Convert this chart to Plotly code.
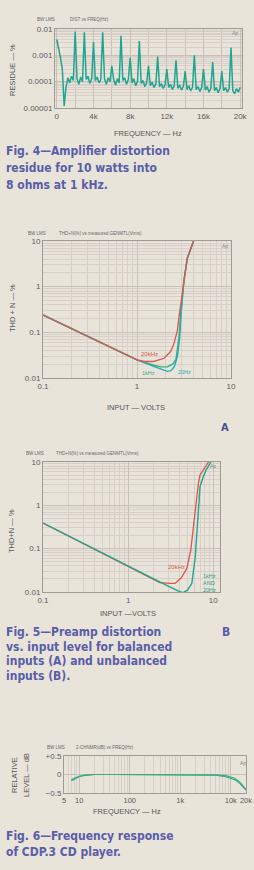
import plotly.graph_objects as go

# ---------------- DATA ----------------
# Fig. 4: amplifier distortion residue vs frequency (Hz, %)
fig4_freq_hz = [0, 200, 400, 600, 800, 1000, 1200, 1400, 1600, 1800,
                2000, 2200, 2400, 2600, 2800, 3000, 3200, 3400, 3600, 3800,
                4000, 4200, 4400, 4600, 4800, 5000, 5200, 5400, 5600, 5800,
                6000, 6200, 6400, 6600, 6800, 7000, 7200, 7400, 7600, 7800,
                8000, 8200, 8400, 8600, 8800, 9000, 9200, 9400, 9600, 9800,
                10000, 10200, 10400, 10600, 10800, 11000, 11200, 11400, 11600, 11800,
                12000, 12200, 12400, 12600, 12800, 13000, 13200, 13400, 13600, 13800,
                14000, 14200, 14400, 14600, 14800, 15000, 15200, 15400, 15600, 15800,
                16000, 16200, 16400, 16600, 16800, 17000, 17200, 17400, 17600, 17800,
                18000, 18200, 18400, 18600, 18800, 19000, 19200, 19400, 19600, 19800,
                20000]
fig4_residue_pct = [4.0e-3, 2.0e-3, 8.0e-4, 3.0e-4, 1.2e-5, 6.0e-5, 1.4e-4, 9.0e-5, 1.6e-4, 1.1e-4,
                    8.0e-3, 1.3e-4, 8.0e-5, 1.5e-4, 1.0e-4, 7.5e-3, 1.2e-4, 1.6e-4, 8.5e-5, 1.3e-4,
                    3.2e-3, 1.1e-4, 1.5e-4, 9.0e-5, 1.2e-4, 7.5e-3, 1.3e-4, 8.0e-5, 1.4e-4, 1.0e-4,
                    4.0e-4, 1.2e-4, 7.5e-5, 1.3e-4, 9.0e-5, 5.5e-3, 1.1e-4, 1.4e-4, 8.0e-5, 1.2e-4,
                    8.0e-4, 9.0e-5, 1.3e-4, 7.0e-5, 1.0e-4, 3.5e-3, 8.5e-5, 1.1e-4, 6.5e-5, 9.0e-5,
                    4.0e-4, 7.0e-5, 9.5e-5, 6.0e-5, 8.0e-5, 9.0e-4, 6.5e-5, 8.5e-5, 5.5e-5, 7.5e-5,
                    3.0e-4, 6.0e-5, 8.0e-5, 5.0e-5, 7.0e-5, 6.5e-4, 5.5e-5, 7.5e-5, 4.8e-5, 6.5e-5,
                    2.5e-4, 5.0e-5, 7.0e-5, 4.5e-5, 6.0e-5, 1.0e-3, 5.0e-5, 6.5e-5, 4.2e-5, 6.0e-5,
                    3.0e-4, 4.8e-5, 6.5e-5, 4.0e-5, 5.5e-5, 5.5e-4, 4.5e-5, 6.0e-5, 3.8e-5, 5.5e-5,
                    2.5e-4, 4.5e-5, 6.0e-5, 4.0e-5, 5.5e-5, 2.0e-3, 4.5e-5, 3.5e-5, 5.5e-5, 4.0e-5,
                    6.0e-5]
fig4_xtick_vals = [0, 4000, 8000, 12000, 16000, 20000]
fig4_xtick_text = ["0", "4k", "8k", "12k", "16k", "20k"]
fig4_ytick_vals = [1e-2, 1e-3, 1e-4, 1e-5]
fig4_ytick_text = ["0.01", "0.001", "0.0001", "0.00001"]

# Fig. 5A: balanced inputs, THD+N (%) vs input (V)
a_1k_volts = [0.1, 0.2, 0.5, 1.0, 1.5, 1.8, 2.1, 2.4, 2.6, 2.8, 2.92, 3.16, 3.43, 3.58, 3.9, 4.0]
a_1k_thd = [0.24, 0.12, 0.049, 0.025, 0.019, 0.0175, 0.0175, 0.02, 0.026, 0.08, 0.26, 1.4, 4.2, 5.4, 8.9, 10]
a_20_volts = [0.1, 0.2, 0.5, 1.0, 1.5, 1.8, 2.1, 2.3, 2.5, 2.7, 2.85, 2.95, 3.16, 3.43, 3.58, 3.9, 4.0]
a_20_thd = [0.24, 0.12, 0.049, 0.025, 0.018, 0.016, 0.014, 0.0145, 0.018, 0.03, 0.08, 0.26, 1.4, 4.2, 5.4, 8.9, 10]
a_20k_volts = [0.1, 0.2, 0.5, 1.0, 1.2, 1.5, 1.94, 2.28, 2.48, 2.69, 2.8, 2.92, 3.16, 3.43, 3.58, 3.9, 4.0]
a_20k_thd = [0.24, 0.12, 0.049, 0.025, 0.023, 0.023, 0.027, 0.038, 0.058, 0.11, 0.22, 0.4, 1.4, 4.2, 5.4, 8.9, 10]

# Fig. 5B: unbalanced inputs
b_1k_volts = [0.1, 0.2, 0.5, 1.0, 2.0, 3.0, 4.0, 4.4, 5.0, 5.61, 6.16, 6.55, 7.0, 7.66, 8.24, 9.15, 9.4]
b_1k_thd = [0.39, 0.195, 0.078, 0.039, 0.0195, 0.0135, 0.0103, 0.0097, 0.011, 0.0158, 0.065, 0.54, 2.7, 4.6, 6.5, 9.3, 10]
b_20k_volts = [0.1, 0.2, 0.5, 1.0, 2.0, 2.36, 3.1, 3.57, 4.2, 4.9, 5.45, 5.86, 6.3, 6.7, 7.0, 8.0, 8.8]
b_20k_thd = [0.39, 0.195, 0.078, 0.039, 0.0195, 0.0165, 0.0158, 0.0158, 0.021, 0.035, 0.093, 0.32, 1.33, 3.2, 5.0, 7.8, 10]

fig5_tick_x_vals = [0.1, 1, 10]
fig5_tick_x_text = ["0.1", "1", "10"]
fig5_tick_y_vals = [0.01, 0.1, 1, 10]
fig5_tick_y_text = ["0.01", "0.1", "1", "10"]

# Fig. 6: frequency response (Hz, dB)
fig6_freq = [7, 8, 10, 12, 15, 20, 50, 100, 1000, 5000, 8000, 10000, 12000, 15000, 18000, 20000]
fig6_left_db = [-0.15, -0.1, -0.05, -0.02, -0.01, 0, 0, 0, 0, -0.01, -0.03, -0.06, -0.1, -0.2, -0.32, -0.4]
fig6_right_db = [-0.17, -0.12, -0.06, -0.03, -0.01, 0, 0, 0, 0, -0.02, -0.06, -0.1, -0.14, -0.24, -0.35, -0.42]
fig6_xtick_vals = [5, 10, 100, 1000, 10000, 20000]
fig6_xtick_text = ["5", "10", "100", "1k", "10k", "20k"]
fig6_ytick_vals = [0.5, 0, -0.5]
fig6_ytick_text = ["+0.5", "0", "\u22120.5"]

# ---------------- STYLE ----------------
W, H = 254, 870
BG = "#e8e4da"
GRID = "#c9c1b9"
MINOR = "#d8d0c8"
FRAME = "#a09a94"
TICKC = "#5a5a5a"
CAP = "#5a5da8"
TEAL = "#1fa590"
GREEN = "#3aae78"
CYAN = "#22aeb8"
RED = "#d9574c"
CAPFONT = "Liberation Sans Narrow, DejaVu Sans Condensed, Arial Narrow, sans-serif"


def tickfont(size):
    return dict(family="Liberation Sans, Arial, sans-serif", size=size, color=TICKC)


def fx(px):
    return px / W


def fy(py):
    return 1 - py / H


fig = go.Figure()

# Fig 4 trace
fig.add_trace(go.Scatter(x=fig4_freq_hz, y=fig4_residue_pct, mode="lines",
                         line=dict(color=TEAL, width=1.5), xaxis="x", yaxis="y"))
# Fig 5A traces
fig.add_trace(go.Scatter(x=a_1k_volts, y=a_1k_thd, mode="lines",
                         line=dict(color=GREEN, width=1.4), xaxis="x2", yaxis="y2"))
fig.add_trace(go.Scatter(x=a_20_volts, y=a_20_thd, mode="lines",
                         line=dict(color=CYAN, width=1.4), xaxis="x2", yaxis="y2"))
fig.add_trace(go.Scatter(x=a_20k_volts, y=a_20k_thd, mode="lines",
                         line=dict(color=RED, width=1.3), xaxis="x2", yaxis="y2"))
# Fig 5B traces
fig.add_trace(go.Scatter(x=b_20k_volts, y=b_20k_thd, mode="lines",
                         line=dict(color=RED, width=1.3), xaxis="x3", yaxis="y3"))
fig.add_trace(go.Scatter(x=b_1k_volts, y=b_1k_thd, mode="lines",
                         line=dict(color=TEAL, width=1.4), xaxis="x3", yaxis="y3"))
# Fig 6 traces
fig.add_trace(go.Scatter(x=fig6_freq, y=fig6_right_db, mode="lines",
                         line=dict(color=TEAL, width=1.1), xaxis="x4", yaxis="y4"))
fig.add_trace(go.Scatter(x=fig6_freq, y=fig6_left_db, mode="lines",
                         line=dict(color=GREEN, width=1.1), xaxis="x4", yaxis="y4"))


def ax(size=8, **kw):
    d = dict(showline=True, linecolor=FRAME, linewidth=1, mirror=True,
             gridcolor=GRID, gridwidth=1, zeroline=False, ticks="",
             tickfont=tickfont(size), fixedrange=True, tickangle=0, automargin=False)
    d.update(kw)
    return d


layout = dict(
    width=W, height=H, margin=dict(l=0, r=0, t=0, b=0, autoexpand=False),
    paper_bgcolor=BG, plot_bgcolor=BG, showlegend=False,
    xaxis=ax(domain=[fx(55), fx(242)], range=[-200, 20200], anchor="y",
             tickmode="array", tickvals=fig4_xtick_vals, ticktext=fig4_xtick_text,
             minor=dict(dtick=2000, tick0=0, showgrid=True, gridcolor=GRID)),
    yaxis=ax(domain=[fy(108), fy(29)], type="log", range=[-5, -2], anchor="x",
             tickmode="array", tickvals=fig4_ytick_vals, ticktext=fig4_ytick_text,
             minor=dict(dtick="D1", showgrid=True, gridcolor=MINOR)),
    xaxis2=ax(domain=[fx(43), fx(231)], type="log", range=[-1, 1], anchor="y2",
              tickmode="array", tickvals=fig5_tick_x_vals, ticktext=fig5_tick_x_text,
              minor=dict(dtick="D1", showgrid=True, gridcolor=MINOR)),
    yaxis2=ax(domain=[fy(378), fy(241)], type="log", range=[-2, 1], anchor="x2",
              tickmode="array", tickvals=fig5_tick_y_vals, ticktext=fig5_tick_y_text,
              minor=dict(dtick="D1", showgrid=True, gridcolor=MINOR)),
    xaxis3=ax(domain=[fx(43), fx(220)], type="log", range=[-1, 1.08], anchor="y3",
              tickmode="array", tickvals=fig5_tick_x_vals, ticktext=fig5_tick_x_text,
              minor=dict(dtick="D1", showgrid=True, gridcolor=MINOR)),
    yaxis3=ax(domain=[fy(592), fy(462)], type="log", range=[-2, 1], anchor="x3",
              tickmode="array", tickvals=fig5_tick_y_vals, ticktext=fig5_tick_y_text,
              minor=dict(dtick="D1", showgrid=True, gridcolor=MINOR)),
    xaxis4=ax(size=7.5, domain=[fx(64), fx(246)], type="log", range=[0.69897, 4.30103], anchor="y4",
              tickmode="array", tickvals=fig6_xtick_vals, ticktext=fig6_xtick_text,
              minor=dict(dtick="D1", showgrid=True, gridcolor=MINOR)),
    yaxis4=ax(domain=[fy(793), fy(756)], range=[-0.5, 0.5], anchor="x4",
              tickmode="array", tickvals=fig6_ytick_vals, ticktext=fig6_ytick_text),
)
fig.update_layout(**layout)

ann = []


def text(px, py, s, size=7, color="#555", rot=0, bold=False, family="Liberation Sans, Arial, sans-serif",
         xanchor="center"):
    ann.append(dict(x=fx(px), y=fy(py), xref="paper", yref="paper", text=("<b>%s</b>" % s) if bold else s,
                    showarrow=False, textangle=rot, xanchor=xanchor, yanchor="middle",
                    font=dict(size=size, color=color, family=family)))


# Fig 4 texts
text(35, 19, "BW LMS", size=4.5, color="#666", xanchor="left")
text(68, 19, "DIST vs FREQ(Hz)", size=4.5, color="#666", xanchor="left")
text(235, 33, "Ap", size=5, color="#888")
text(12, 70, "RESIDUE \u2014 %", size=7.5, rot=-90)
text(148, 133, "FREQUENCY \u2014 Hz", size=7.5)
text(4, 151, "Fig. 4\u2014Amplifier distortion", size=12, color=CAP, bold=True, family=CAPFONT, xanchor="left")
text(4, 168, "residue for 10 watts into", size=12, color=CAP, bold=True, family=CAPFONT, xanchor="left")
text(4, 185, "8 ohms at 1 kHz.", size=12, color=CAP, bold=True, family=CAPFONT, xanchor="left")

# Fig 5A texts
text(26, 233, "BW LMS", size=4.5, color="#666", xanchor="left")
text(57, 233, "THD+N(%) vs measured GENMTL(Vrms)", size=4.5, color="#666", xanchor="left")
text(225, 246, "Ap", size=5, color="#888")
text(12, 308, "THD + N \u2014 %", size=7.5, rot=-90)
text(149, 354, "20kHz", size=6, color=RED)
text(148, 373, "1kHz", size=5.5, color=GREEN)
text(184, 372, "20Hz", size=5.5, color=CYAN)
text(136, 407, "INPUT \u2014 VOLTS", size=7.5)
text(225, 427, "A", size=11, color="#4a4d90", bold=True, family=CAPFONT)

# Fig 5B texts
text(24, 453, "BW LMS", size=4.5, color="#666", xanchor="left")
text(54, 453, "THD+N(%) vs measured GENMTL(Vrms)", size=4.5, color="#666", xanchor="left")
text(213, 466, "Ap", size=5, color="#888")
text(11, 531, "THD+N \u2014 %", size=7.5, rot=-90)
text(176, 567, "20kHz", size=6, color=RED)
text(209, 576, "1kHz", size=5.5, color=TEAL)
text(209, 583, "AND", size=5.5, color=TEAL)
text(209, 590, "20Hz", size=5.5, color=TEAL)
text(128, 613, "INPUT \u2014VOLTS", size=7.5)
text(226, 632, "B", size=12, color=CAP, bold=True, family=CAPFONT)
text(4, 632, "Fig. 5\u2014Preamp distortion", size=12, color=CAP, bold=True, family=CAPFONT, xanchor="left")
text(4, 647, "vs. input level for balanced", size=12, color=CAP, bold=True, family=CAPFONT, xanchor="left")
text(4, 661, "inputs (A) and unbalanced", size=12, color=CAP, bold=True, family=CAPFONT, xanchor="left")
text(4, 676, "inputs (B).", size=12, color=CAP, bold=True, family=CAPFONT, xanchor="left")

# Fig 6 texts
text(45, 747, "BW LMS", size=4.5, color="#666", xanchor="left")
text(74, 747, "2-CHNMR(dB) vs FREQ(Hz)", size=4.5, color="#666", xanchor="left")
text(243, 763, "Ap", size=5, color="#888")
text(14, 775, "RELATIVE", size=7.5, rot=-90)
text(26, 775, "LEVEL \u2014 dB", size=7.5, rot=-90)
text(127, 811, "FREQUENCY \u2014 Hz", size=7.5)
text(4, 836, "Fig. 6\u2014Frequency response", size=12, color=CAP, bold=True, family=CAPFONT, xanchor="left")
text(4, 852, "of CDP.3 CD player.", size=12, color=CAP, bold=True, family=CAPFONT, xanchor="left")

fig.update_layout(annotations=ann)
fig.write_html("out.html")
